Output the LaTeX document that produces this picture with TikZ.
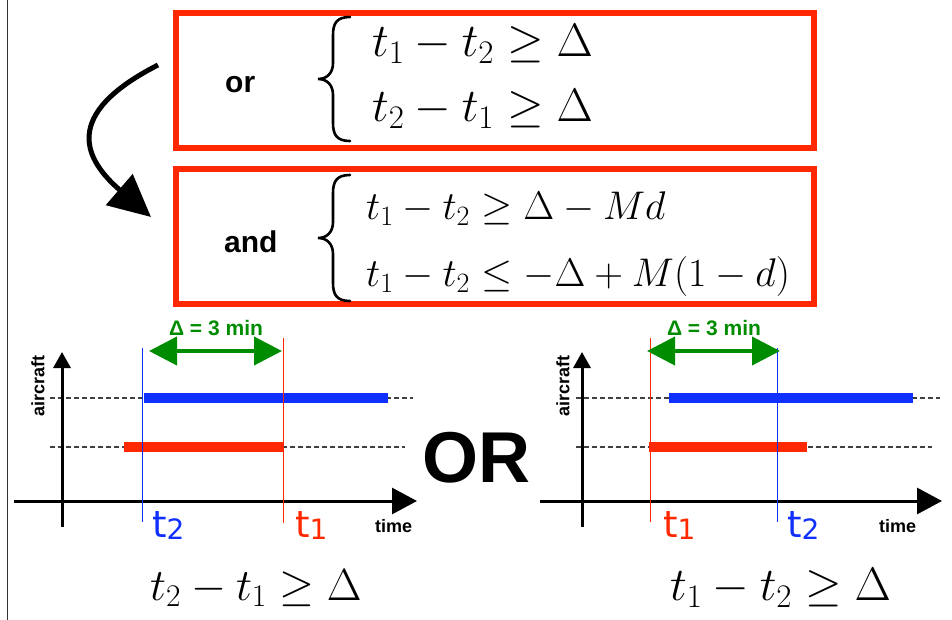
\RequirePackage{fix-cm}
\documentclass[tikz,border=0pt]{standalone}
\usepackage{fontspec}
\usetikzlibrary{arrows.meta}
\newfontfamily\labelfont{Liberation Sans}
\newfontfamily\tfont{DejaVu Sans}

\definecolor{boxred}{RGB}{255,40,0}
\definecolor{barblue}{RGB}{16,48,255}
\definecolor{gapgreen}{RGB}{0,140,0}

\tikzset{
  constraint/.style={draw=boxred, line width=6pt},
  curly/.style={line width=2.6pt, line cap=round},
  axisline/.style={line width=3pt},
  slot/.style={dash pattern=on 4.5pt off 3.5pt, line width=1.2pt, black!75},
  occupy/.style={line width=10pt},
  marker/.style={line width=1pt},
  word/.style={font=\labelfont\bfseries\fontsize{30}{36}\selectfont, inner sep=0pt},
  small/.style={font=\labelfont\bfseries\fontsize{18}{20}\selectfont, inner sep=0pt},
  gap/.style={gapgreen, line width=4pt, {Triangle[length=28pt,width=28pt]}-{Triangle[length=28pt,width=28pt]}},
}

\newcommand{\tlabel}[1]{{\tfont\fontsize{37}{37}\selectfont t\raisebox{-2pt}{\fontsize{28}{28}\selectfont #1}}}

\begin{document}
\begin{tikzpicture}[x=1pt, y=-1pt]
  \useasboundingbox (0,0) rectangle (952,620);

  % left border
  \draw[line width=1pt, black!80] (7,0) -- (7,620);

  % the two constraint boxes
  \draw[constraint] (176,13) rectangle (814,148);
  \draw[constraint] (176,169) rectangle (814,304);

  \node[word, anchor=base west] (or) at (225,93) {or};
  \node[word, anchor=base west] (and) at (224,252) {and};

  % braces (tip at the shift point)
  \draw[curly, shift={(318,79)}]
    (32,-62) .. controls (19,-62) and (15,-56) .. (15,-44) -- (15,-16)
    .. controls (15,-6) and (9,0) .. (0,0)
    .. controls (9,0) and (15,6) .. (15,16) -- (15,44)
    .. controls (15,56) and (19,62) .. (32,62);
  \draw[curly, shift={(318,238)}]
    (32,-63) .. controls (19,-63) and (15,-57) .. (15,-45) -- (15,-16)
    .. controls (15,-6) and (9,0) .. (0,0)
    .. controls (9,0) and (15,6) .. (15,16) -- (15,45)
    .. controls (15,57) and (19,63) .. (32,63);

  \node[inner sep=0pt, anchor=west] (disj) at (372,76)
    {\fontsize{47}{65}\selectfont
     $\begin{array}{@{}l@{}}
       t_1 - t_2 \geq \Delta\\
       t_2 - t_1 \geq \Delta
     \end{array}$};
  \node[inner sep=0pt, anchor=west] (bigm) at (366,240)
    {\fontsize{40}{67}\selectfont
     $\begin{array}{@{}l@{}}
       t_1 - t_2 \geq \Delta - Md\\
       t_1 - t_2 \leq -\Delta + M(1-d)
     \end{array}$};

  % curved arrow from one box to the other
  \coordinate (bend-start) at (158,65);
  \coordinate (bend-end) at (151,217);
  \draw[line width=5pt, -{Triangle[length=42pt,width=40pt]}]
    (bend-start) .. controls (60,115) and (85,160) .. (bend-end);

  % ---- left panel: t2 before t1 ----
  \coordinate (L-y0) at (62,527);
  \coordinate (L-y1) at (62,352);
  \coordinate (L-x0) at (14,501);
  \coordinate (L-x1) at (417,501);
  \draw[slot] (50,398) -- (413,398);
  \draw[slot] (50,447) -- (405,447);
  \draw[axisline, -{Triangle[length=16pt,width=17pt]}] (L-y0) -- (L-y1);
  \draw[axisline, -{Triangle[length=25pt,width=26pt]}] (L-x0) -- (L-x1);
  \draw[occupy, barblue] (144,398) -- (388,398);
  \draw[occupy, boxred] (124,447) -- (283,447);
  \draw[marker, barblue] (142,348) -- (142,522);
  \draw[marker, boxred] (283,338) -- (283,523);
  \coordinate (L-g0) at (149,351);
  \coordinate (L-g1) at (282,351);
  \draw[gap] (L-g0) -- (L-g1);
  \node[small, gapgreen, font=\labelfont\bfseries\fontsize{21}{24}\selectfont, anchor=base] (L-delta) at (216,335) {Δ = 3 min};
  \node[small, rotate=90, anchor=center] (L-air) at (38,386) {aircraft};
  \node[small, anchor=base west] (L-time) at (375,532) {time};
  \node[inner sep=0pt, anchor=base west, barblue] (L-t2) at (152,537) {\tlabel{2}};
  \node[inner sep=0pt, anchor=base west, boxred] (L-t1) at (295,537) {\tlabel{1}};
  \node[inner sep=0pt, anchor=base west] (L-eq) at (150,600)
    {\fontsize{45}{50}\selectfont $t_2 - t_1 \geq \Delta$};

  % OR between the panels
  \node[inner sep=0pt, anchor=base west, font=\labelfont\bfseries\fontsize{72}{80}\selectfont] (alt) at (422,482) {OR};

  % ---- right panel: t1 before t2 ----
  \coordinate (R-y0) at (582,527);
  \coordinate (R-y1) at (582,352);
  \coordinate (R-x0) at (540,501);
  \coordinate (R-x1) at (942,501);
  \draw[slot] (576,398) -- (940,398);
  \draw[slot] (576,447) -- (932,447);
  \draw[axisline, -{Triangle[length=16pt,width=17pt]}] (R-y0) -- (R-y1);
  \draw[axisline, -{Triangle[length=25pt,width=26pt]}] (R-x0) -- (R-x1);
  \draw[occupy, barblue] (669,398) -- (913,398);
  \draw[occupy, boxred] (649,447) -- (807,447);
  \draw[marker, boxred] (650,338) -- (650,522);
  \draw[marker, barblue] (777,348) -- (777,522);
  \coordinate (R-g0) at (647,351);
  \coordinate (R-g1) at (780,351);
  \draw[gap] (R-g0) -- (R-g1);
  \node[small, gapgreen, font=\labelfont\bfseries\fontsize{21}{24}\selectfont, anchor=base] (R-delta) at (714,335) {Δ = 3 min};
  \node[small, rotate=90, anchor=center] (R-air) at (563,386) {aircraft};
  \node[small, anchor=base west] (R-time) at (879,532) {time};
  \node[inner sep=0pt, anchor=base west, boxred] (R-t1) at (663,537) {\tlabel{1}};
  \node[inner sep=0pt, anchor=base west, barblue] (R-t2) at (787,537) {\tlabel{2}};
  \node[inner sep=0pt, anchor=base west] (R-eq) at (670,600)
    {\fontsize{47}{50}\selectfont $t_1 - t_2 \geq \Delta$};
\end{tikzpicture}
\end{document}
